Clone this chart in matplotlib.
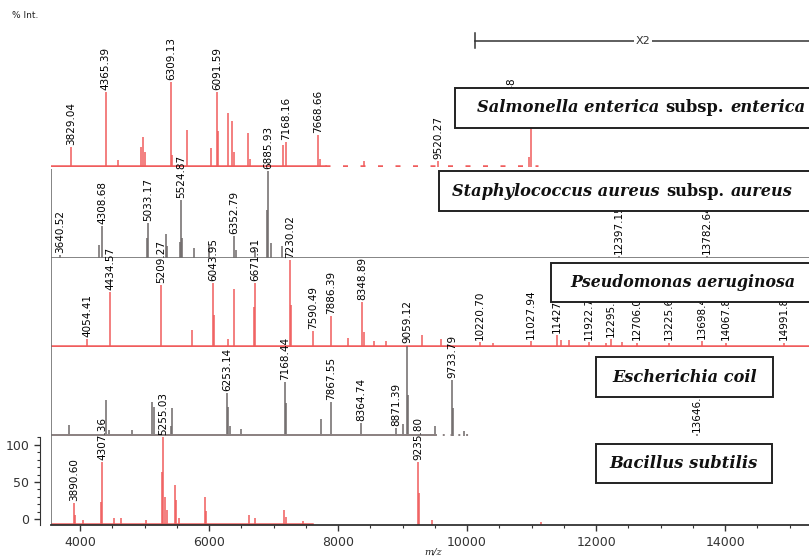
import matplotlib.pyplot as plt
from matplotlib.patches import Rectangle
from matplotlib.lines import Line2D
from matplotlib.ticker import MultipleLocator
from matplotlib.transforms import blended_transform_factory

# Stacked MALDI spectra, one panel per species

W, H = 809, 559
XMIN, XMAX = 3550, 15300

# --- data: peak m/z, intensity (rel. %), labels ---
salm_mz = [3855, 4400, 4590, 4940, 4977, 5000, 5411, 5430, 5660, 6031, 6124, 6140,
           6295, 6357, 6390, 6605, 6640, 7140, 7193, 7690, 7720, 8400, 9550, 10960, 10992]
salm_int = [19, 93, 1, 19, 32, 12, 107, 8, 42, 18, 93, 41,
            65, 54, 12, 38, 3, 22, 26, 35, 3, 0, 0, 5, 45]
salm_lab_mz = [3855, 4400, 5411, 6124, 7193, 7690, 9550, 10682]
salm_lab_int = [19, 93, 107, 93, 26, 35, 0, 45]
salm_lab = ["3829.04", "4365.39", "6309.13", "6091.59", "7168.16", "7668.66", "9520.27", "10694.48"]

staph_mz = [3690, 4290, 4341, 5040, 5054, 5333, 5350, 5545, 5566, 5580, 5765, 5995,
            6388, 6410, 6720, 6900, 6915, 6960, 7130, 12357, 13721]
staph_int = [-4, 10, 35, 19, 39, 24, 8, 14, 70, 19, 5, 8,
             22, 3, 3, 57, 109, 12, 8, -5, -5]
staph_lab_mz = [3690, 4341, 5054, 5566, 6388, 6915, 12357, 13721]
staph_lab_int = [-4, 35, 39, 70, 22, 109, -5, -5]
staph_lab = ["3640.52", "4308.68", "5033.17", "5524.87", "6352.79", "6885.93", "12397.15", "13782.64"]

pseu_mz = [4109, 4465, 5256, 5736, 6062, 6075, 6290, 6388, 6700, 6713, 7256, 7270,
           7612, 7891, 8150, 8372, 8400, 8550, 8750, 9300, 9600, 10202, 10400, 10992,
           11395, 11450, 11580, 11891, 12150, 12233, 12400, 12636, 13132, 13643, 14016, 14915]
pseu_int = [3, 66, 76, 15, 78, 35, 3, 70, 46, 78, 109, 49,
            14, 34, 4, 53, 12, 0, 0, 8, 3, -1, -2, 0,
            8, 1, 1, -1, -2, 3, -1, -2, -2, 0, -2, -2]
pseu_lab_mz = [4109, 4465, 5256, 6062, 6713, 7256, 7612, 7891, 8372, 10202, 10992,
               11395, 11891, 12233, 12636, 13132, 13643, 14016, 14915]
pseu_lab_int = [3, 66, 76, 78, 78, 109, 14, 34, 53, -1, 0,
                8, -1, 3, -2, -2, 0, -2, -2]
pseu_lab = ["4054.41", "4434.57", "5209.27", "6043.95", "6671.91", "7230.02", "7590.49",
            "7886.39", "8348.89", "10220.70", "11027.94", "11427.06", "11922.70",
            "12295.04", "12706.04", "13225.65", "13698.45", "14067.89", "14991.82"]

ecoli_mz = [3829, 4403, 4450, 4800, 5116, 5150, 5410, 5426, 6279, 6300, 6330, 6500,
            7178, 7190, 7736, 7891, 8357, 8899, 9000, 9070, 9085, 9500, 9770, 9780, 9950, 13566]
ecoli_int = [7, 40, 0, 0, 38, 31, 5, 30, 50, 31, 5, 1,
             65, 36, 15, 38, 10, 3, 8, 114, 47, 5, 67, 30, -1, -5]
ecoli_lab_mz = [6279, 7178, 7891, 8357, 8899, 9070, 9770, 13566]
ecoli_lab_int = [50, 65, 38, 10, 3, 114, 67, -5]
ecoli_lab = ["6253.14", "7168.44", "7867.55", "8364.74", "8871.39", "9059.12", "9733.79", "13646.03"]

bac_mz = [3907, 3925, 4050, 4330, 4341, 4520, 4640, 5020, 5270, 5290, 5320, 5345,
          5473, 5490, 5540, 5938, 5955, 6620, 6720, 7163, 7190, 7450, 9240, 9255, 9450, 11150]
bac_int = [22, 5, -1, 23, 77, 1, 1, -1, 63, 111, 30, 12,
           46, 26, 1, 30, 11, 6, 1, 12, 3, -2, 77, 35, -1, -4]
bac_lab_mz = [3907, 4341, 5290, 9240]
bac_lab_int = [22, 77, 111, 77]
bac_lab = ["3890.60", "4307.36", "5255.03", "9235.80"]

RED = "#f05c5c"
GRAY = "#6e6868"

fig = plt.figure(figsize=(W / 100, H / 100), dpi=100)


def fx(px):
  return px / W


def fy(py):
  return 1 - py / H


def make_panel(base_px, mz, inten, lab_mz, lab_int, lab, color):
  ax = fig.add_axes([fx(51), fy(base_px), fx(W) - fx(51), 89 / H])
  ax.set_xlim(XMIN, XMAX)
  ax.set_ylim(-8, 112)
  ax.patch.set_alpha(0)
  for s in ax.spines.values():
    s.set_visible(False)
  ax.set_xticks([])
  ax.set_yticks([])
  ax.vlines(mz, -8, inten, colors=color, lw=1.1, clip_on=False)
  for m, h, t in zip(lab_mz, lab_int, lab):
    ax.annotate(t, (m, h), xytext=(0, 1.5), textcoords="offset points", rotation=90,
                ha="center", va="bottom", fontsize=7.5, annotation_clip=False)
  return ax


# Salmonella (top, no left axis)
ax1 = make_panel(167, salm_mz, salm_int, salm_lab_mz, salm_lab_int, salm_lab, RED)
ax1.plot([XMIN, 7800], [-6.5, -6.5], color=RED, lw=1.8)
ax1.plot([7800, 11100], [-6.5, -6.5], color=RED, lw=1.8, ls=(0, (2, 5)))

# Staphylococcus
ax2 = make_panel(258, staph_mz, staph_int, staph_lab_mz, staph_lab_int, staph_lab, GRAY)
ax2.plot([XMIN, XMAX], [-8, -8], color="#707070", lw=1.2)
ax2.axvline(XMIN, color="#707070", lw=1.2)

# Pseudomonas
ax3 = make_panel(347, pseu_mz, pseu_int, pseu_lab_mz, pseu_lab_int, pseu_lab, RED)
ax3.plot([XMIN, XMAX], [-6.5, -6.5], color=RED, lw=1.8)
ax3.axvline(XMIN, color="#707070", lw=1.2)

# Escherichia
ax4 = make_panel(436, ecoli_mz, ecoli_int, ecoli_lab_mz, ecoli_lab_int, ecoli_lab, GRAY)
ax4.plot([XMIN, 9500], [-7, -7], color="#8a8080", lw=1.4)
ax4.plot([9500, 10050], [-7, -7], color="#8a8080", lw=1.4, ls=(0, (1, 3)))
ax4.axvline(XMIN, color="#707070", lw=1.2)

# Bacillus (bottom, with axes)
ax5 = make_panel(525, bac_mz, bac_int, bac_lab_mz, bac_lab_int, bac_lab, RED)
ax5.plot([XMIN, 7600], [-6, -6], color=RED, lw=1.8)
ax5.axvline(XMIN, color="#707070", lw=1.2)
ax5.spines["bottom"].set_visible(True)
ax5.spines["bottom"].set_linewidth(1.3)
ax5.spines["bottom"].set_color("#333333")
ax5.spines["left"].set_visible(True)
ax5.spines["left"].set_position(("outward", 8))
ax5.spines["left"].set_bounds(-8, 110)
ax5.spines["left"].set_color("#333333")
ax5.set_xticks(range(4000, 15000, 2000))
ax5.xaxis.set_minor_locator(MultipleLocator(500))
ax5.set_yticks([0, 50, 100])
ax5.yaxis.set_minor_locator(MultipleLocator(10))
ax5.tick_params(axis="both", which="major", direction="out", length=4, width=1, labelsize=9,
                colors="#333333")
ax5.tick_params(axis="both", which="minor", direction="out", length=2.5, width=0.8, colors="#333333")
ax5.tick_params(axis="x", pad=4)

# species boxes (white, on top of labels)
# (left, top, right, bottom, text start or None to center, text width, parts)
boxes = [
  (455, 88, 840, 128, 477, 328, [("Salmonella enterica", "italic"), ("subsp.", "normal"), ("enterica", "italic")]),
  (439, 171, 840, 211, 452, 340, [("Staphylococcus aureus", "italic"), ("subsp.", "normal"), ("aureus", "italic")]),
  (551, 263, 840, 302, 570, 225, [("Pseudomonas aeruginosa", "italic")]),
  (596, 357, 773, 397, None, 144, [("Escherichia coil", "italic")]),
  (596, 444, 772, 483, None, 148, [("Bacillus subtilis", "italic")]),
]

renderer = fig.canvas.get_renderer()
gap_em = 0.4
for x0, y0, x1, y1, tx, target, parts in boxes:
  rect = Rectangle((fx(x0), fy(y1)), fx(x1) - fx(x0), (y1 - y0) / H, transform=fig.transFigure,
                   facecolor="white", edgecolor="#222222", lw=1.4, zorder=10)
  fig.add_artist(rect)
  texts = []
  for s, style in parts:
    t = fig.text(0, fy((y0 + y1) / 2), s, fontsize=12, family="DejaVu Serif", weight="bold",
                 style=style, va="center", ha="left", zorder=11, color="#111111")
    texts.append(t)
  # scale font so the line fills the same width as in the reference
  gap = gap_em * 12 * 100 / 72
  widths = [t.get_window_extent(renderer).width for t in texts]
  total = sum(widths) + gap * (len(widths) - 1)
  fs = 12 * target / total
  for t in texts:
    t.set_fontsize(fs)
  gap = gap_em * fs * 100 / 72
  widths = [t.get_window_extent(renderer).width for t in texts]
  total = sum(widths) + gap * (len(widths) - 1)
  start = tx if tx is not None else (x0 + x1) / 2 - total / 2
  for t, w in zip(texts, widths):
    t.set_x(fx(start))
    start += w + gap

# X2 bracket over the top panel
tr = blended_transform_factory(ax1.transData, fig.transFigure)
x2_start = 10124
fig.add_artist(Line2D([x2_start, XMAX + 500], [fy(41), fy(41)], transform=tr, color="#333333", lw=1.1))
fig.add_artist(Line2D([x2_start, x2_start], [fy(33), fy(48)], transform=tr, color="#333333", lw=1.1))
fig.text(fx(643), fy(41), "X2", transform=fig.transFigure, ha="center", va="center", fontsize=8,
         color="#333333", bbox=dict(facecolor="white", edgecolor="none", pad=1.5), zorder=5)

fig.text(fx(12), fy(16), "% Int.", fontsize=6.5, va="center", ha="left", color="#222222")
fig.text(fx(433), fy(552), "m/z", fontsize=7, family="DejaVu Serif", style="italic", va="center",
         ha="center", color="#222222")

fig.savefig("out.png", dpi=100)
